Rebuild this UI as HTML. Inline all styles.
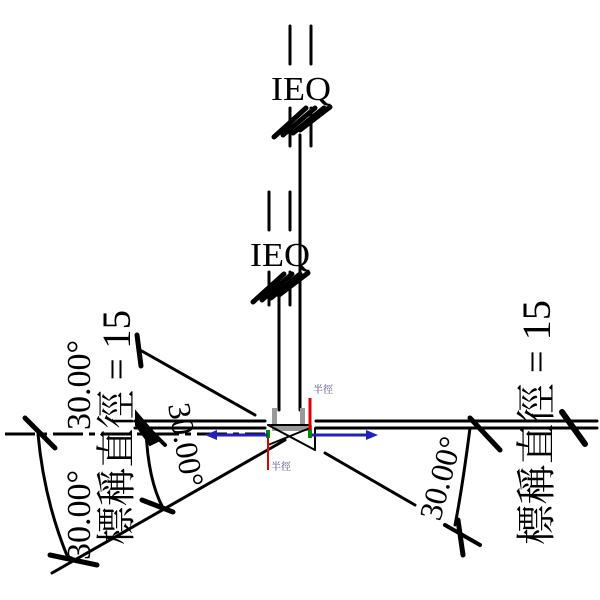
<!DOCTYPE html>
<html><head><style>html,body{margin:0;padding:0;background:#fff;width:600px;height:600px;overflow:hidden}</style></head>
<body>
<svg width="600" height="600" viewBox="0 0 600 600" xmlns="http://www.w3.org/2000/svg" font-family="Liberation Serif, Noto Serif CJK SC, serif">
<g stroke="#000" fill="none" stroke-linecap="round">
<line x1="290" y1="26" x2="290" y2="64" stroke-width="3"/>
<line x1="311" y1="26" x2="311" y2="64" stroke-width="3"/>
<line x1="290" y1="108" x2="290" y2="146" stroke-width="3"/>
<line x1="311" y1="108" x2="311" y2="146" stroke-width="3"/>
<g stroke-width="5">
<line x1="274" y1="137" x2="306" y2="108"/><line x1="283" y1="135" x2="315" y2="108"/><line x1="293" y1="133" x2="324" y2="108"/><line x1="300" y1="130" x2="330" y2="107"/>
</g>
<line x1="300" y1="135" x2="300" y2="410" stroke-width="3"/>
<line x1="269" y1="192" x2="269" y2="230" stroke-width="3"/>
<line x1="290" y1="192" x2="290" y2="230" stroke-width="3"/>
<line x1="269" y1="272" x2="269" y2="305" stroke-width="3"/>
<line x1="290" y1="272" x2="290" y2="305" stroke-width="3"/>
<g stroke-width="5">
<line x1="253" y1="302" x2="284" y2="274"/><line x1="262" y1="300" x2="292" y2="274"/><line x1="271" y1="298" x2="300" y2="274"/><line x1="279" y1="295" x2="308" y2="273"/>
</g>
<line x1="279" y1="282" x2="279" y2="410" stroke-width="3"/>
<line x1="135" y1="421" x2="265" y2="421" stroke-width="3"/>
<line x1="135" y1="428" x2="265" y2="428" stroke-width="3"/>
<line x1="316" y1="421" x2="597" y2="421" stroke-width="3"/>
<line x1="316" y1="428" x2="597" y2="428" stroke-width="3"/>
<line x1="5" y1="434" x2="265" y2="434" stroke-width="3" stroke-dasharray="30 6 6 6" stroke-linecap="butt"/>
<line x1="140" y1="350" x2="255" y2="415" stroke-width="3"/>
<line x1="137" y1="335" x2="141" y2="366" stroke-width="5"/>
<path d="M38 434 Q44 500 68 558" stroke-width="3"/>
<line x1="25" y1="418" x2="55" y2="448" stroke-width="5"/>
<line x1="50" y1="555" x2="97" y2="565" stroke-width="5"/>
<line x1="52" y1="573" x2="285" y2="440" stroke-width="3"/>
<path d="M146 430 Q148 480 163 508" stroke-width="3"/>
<line x1="142" y1="500" x2="173" y2="512" stroke-width="5"/>
<path d="M136 412 L160 440 L150 445 L136 425 Z" fill="#000" stroke-width="2"/>
<line x1="140" y1="420" x2="165" y2="445" stroke-width="4"/>
<line x1="325" y1="453" x2="415" y2="505" stroke-width="3"/>
<path d="M470 428 Q462 490 455 525" stroke-width="3"/>
<line x1="470" y1="418" x2="500" y2="450" stroke-width="5"/>
<line x1="445" y1="525" x2="480" y2="545" stroke-width="4"/>
<line x1="458" y1="520" x2="463" y2="555" stroke-width="5"/>
<line x1="562" y1="412" x2="585" y2="444" stroke-width="6"/>
<rect x="272" y="408" width="5" height="18" fill="#999" stroke="none"/>
<rect x="300" y="408" width="5" height="18" fill="#999" stroke="none"/>
<rect x="272" y="425" width="40" height="6" fill="#999" stroke="none"/>
<line x1="268" y1="425" x2="315" y2="450" stroke-width="2"/>
<line x1="268" y1="445" x2="310" y2="428" stroke-width="2"/>
<line x1="315" y1="428" x2="315" y2="450" stroke-width="2"/>
<line x1="268" y1="425" x2="310" y2="425" stroke-width="2"/>
</g>
<line x1="310" y1="398" x2="310" y2="436" stroke="#d00" stroke-width="3"/>
<line x1="268" y1="436" x2="268" y2="470" stroke="#d00" stroke-width="2"/>
<line x1="310" y1="430" x2="310" y2="438" stroke="#080" stroke-width="4"/>
<line x1="268" y1="430" x2="268" y2="438" stroke="#080" stroke-width="4"/>
<line x1="215" y1="435" x2="268" y2="435" stroke="#22b" stroke-width="3"/>
<path d="M205 435 L217 430 L217 440 Z" fill="#22b"/>
<line x1="312" y1="435" x2="368" y2="435" stroke="#22b" stroke-width="3"/>
<path d="M378 435 L366 430 L366 440 Z" fill="#22b"/>
<text x="313" y="393" font-size="10" fill="#447">半徑</text>
<text x="271" y="470" font-size="10" fill="#447">半徑</text>
<text x="271" y="100" font-size="34" fill="#000" textLength="60" lengthAdjust="spacingAndGlyphs">IEQ</text>
<text x="250" y="266" font-size="34" fill="#000" textLength="60" lengthAdjust="spacingAndGlyphs">IEQ</text>
<text transform="translate(130,545) rotate(-90)" font-size="40" fill="#000" textLength="235" lengthAdjust="spacingAndGlyphs">標稱直徑 = 15</text>
<text transform="translate(550,545) rotate(-90)" font-size="40" fill="#000" textLength="245" lengthAdjust="spacingAndGlyphs">標稱直徑 = 15</text>
<text transform="translate(90,560) rotate(-90)" font-size="34" fill="#000">30.00°</text>
<text transform="translate(90,430) rotate(-90)" font-size="34" fill="#000">30.00°</text>
<text transform="translate(168,405) rotate(80)" font-size="32" fill="#000">30.00°</text>
<text transform="translate(440,522) rotate(-75)" font-size="32" fill="#000">30.00°</text>
</svg>
</body></html>
